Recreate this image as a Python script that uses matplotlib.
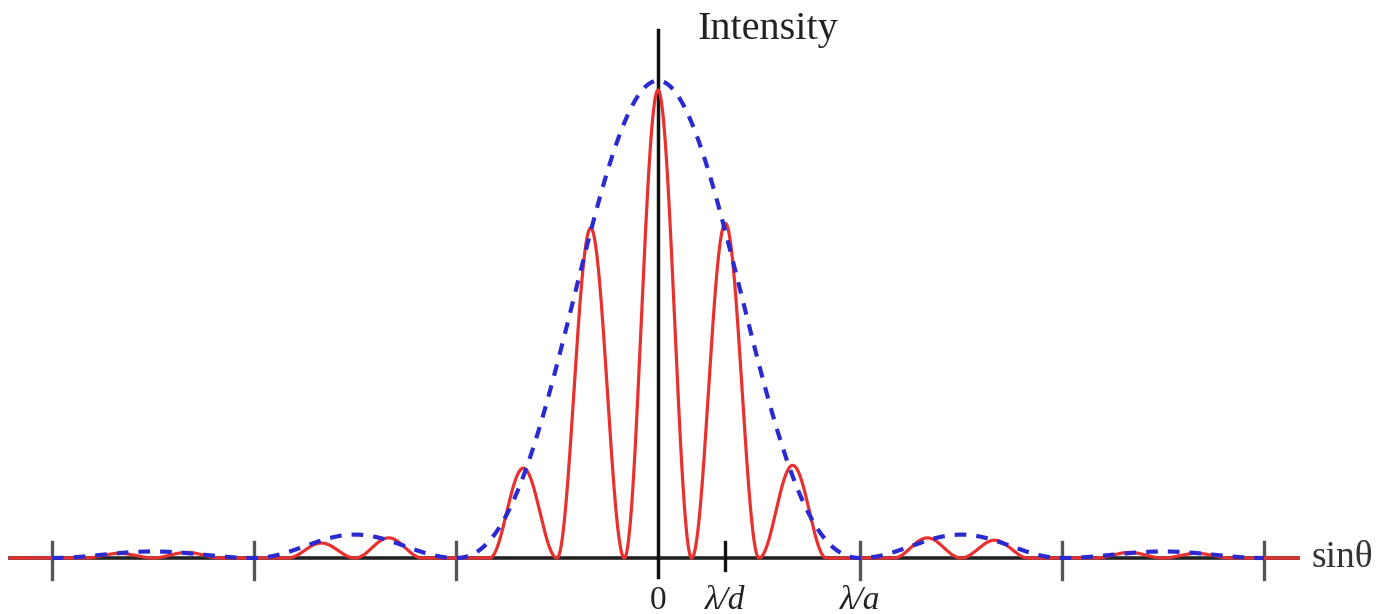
import numpy as np
import matplotlib.pyplot as plt

# values (x in units of lambda/a, y relative to central peak)
fringe_order = [-8, -7, -5, -4, -2, -1, 0, 1, 2, 4, 5, 7, 8]   # in units of lambda/d
fringe_height = [0.01, 0.012, 0.032, 0.043, 0.192, 0.705, 1.0, 0.715, 0.198, 0.043, 0.038, 0.012, 0.01]
d_over_a = 3  # lambda/a sits at the 3rd fringe

env_lobe = [-2, -1, 0, 1, 2]          # envelope lobes
env_height = [0.014, 0.05, 1.02, 0.05, 0.014]

tick_pos = [-3, -2, -1, 1, 2, 3]
label_pos = [0, 1 / d_over_a, 1]
label_txt = ['0', 'λ/d', 'λ/a']

fig = plt.figure(figsize=(13.79, 6.14), dpi=100)
ax = fig.add_axes([0, 0, 1, 1])
ax.set_xlim(-658 / 202, (1379 - 658) / 202)
ax.set_ylim(-56 / 468, 558 / 468)
ax.axis('off')

x = np.linspace(-3.208, 3.168, 6000)

# red fringes: cos^2 lobes of width lambda/d
red = np.zeros_like(x)
for m, h in zip(fringe_order, fringe_height):
    c = m / d_over_a
    sel = np.abs(x - c) <= 0.5 / d_over_a
    red[sel] = h * np.cos(np.pi * d_over_a * (x[sel] - c)) ** 2

# blue single-slit envelope
xe = np.linspace(-3, 3, 3000)
env = np.zeros_like(xe)
for k, h in zip(env_lobe, env_height):
    if k == 0:
        sel = np.abs(xe) < 1
        env[sel] = h * np.sinc(xe[sel]) ** 2
    else:
        lo, hi = (k, k + 1) if k > 0 else (k - 1, k)
        sel = (xe >= lo) & (xe <= hi)
        env[sel] = h * np.sin(np.pi * xe[sel]) ** 2

# axes
ax.plot([-3.208, 3.168], [0, 0], color='#222222', lw=2.6, zorder=1)
ax.plot([0, 0], [-0.04, (558 - 30) / 468], color='#111111', lw=2.5, zorder=2)
for t in tick_pos:
    ax.plot([t, t], [-0.045, 0.035], color='#555555', lw=2.4, zorder=2)
ax.plot([1 / d_over_a, 1 / d_over_a], [-0.025, 0.035], color='#111111', lw=2.4, zorder=2)

ax.plot(x, red, color='#e8312f', lw=2.3, zorder=3)
ax.plot(xe, env, color='#2a2ad0', lw=3.0, linestyle=(0, (2.8, 2.4)), zorder=4)

for p, s in zip(label_pos, label_txt):
    style = 'normal' if s == '0' else 'italic'
    ax.text(p, -0.092, s, ha='center', va='center', fontsize=24,
            family='Liberation Serif', style=style, color='#222222')

ax.text((1311 - 658) / 202, 0, 'sinθ', ha='left', va='center', fontsize=27,
        family='Liberation Serif', color='#333333')
ax.text((697 - 658) / 202, (558 - 30) / 468, 'Intensity', ha='left', va='center',
        fontsize=29, family='Liberation Serif', color='#222222')

fig.savefig('out.png', dpi=100)
